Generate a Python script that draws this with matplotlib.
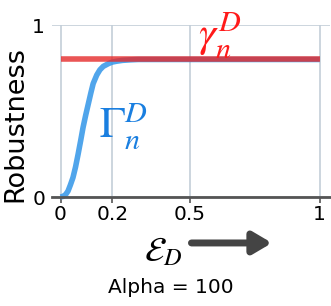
import matplotlib
matplotlib.use('Agg')
import matplotlib.pyplot as plt

plt.rcParams['font.family'] = ['DejaVu Sans']
plt.rcParams['mathtext.fontset'] = 'stix'

# data
eps = [0, 0.01, 0.02, 0.029, 0.038, 0.048, 0.058, 0.068, 0.078, 0.087, 0.097, 0.107, 0.117, 0.126,
       0.14, 0.152, 0.165, 0.185, 0.2, 0.217, 0.24, 0.27, 0.3, 0.4, 0.5, 0.6, 0.7, 0.8, 0.9, 1.0]
big_gamma = [0, 0.004, 0.015, 0.035, 0.07, 0.113, 0.175, 0.25, 0.33, 0.405, 0.475, 0.54, 0.605, 0.66,
             0.71, 0.74, 0.76, 0.776, 0.785, 0.79, 0.795, 0.798, 0.8, 0.8, 0.8, 0.8, 0.8, 0.8, 0.8, 0.8]
small_gamma_x = [0, 1]
small_gamma = [0.8, 0.8]
xticks = [0, 0.2, 0.5, 1]
xticklabels = ['0', '0.2', '0.5', '1']
yticks = [0, 1]

fig = plt.figure(figsize=(3.31, 3.06), dpi=100)
ax = fig.add_axes([0.157, 0.356, 0.84, 0.562])

ax.plot(eps, big_gamma, color='#3d9be9', lw=4, alpha=0.9, clip_on=False,
        solid_capstyle='butt', solid_joinstyle='round')
ax.plot(small_gamma_x, small_gamma, color='#e52a2a', lw=4, alpha=0.8, clip_on=False, solid_capstyle='butt')

ax.set_xlim(-0.033, 1.04)
ax.set_ylim(0, 1)
ax.set_xticks(xticks)
ax.set_xticklabels(xticklabels)
ax.set_yticks(yticks)
ax.tick_params(axis='x', labelsize=14.5, length=4, width=1.2, color='#555555', pad=2)
ax.tick_params(axis='y', labelsize=14.5, length=0, pad=5)
ax.grid(True, color='#c3ced8', lw=1.2)
ax.set_axisbelow(True)
for s in ['top', 'right', 'left']:
    ax.spines[s].set_visible(False)
ax.spines['bottom'].set_color('#555555')
ax.spines['bottom'].set_linewidth(2)

fig.text(0.046, 0.595, 'Robustness', fontsize=19.5, rotation=90, ha='center', va='center')

ax.text(0.15, 0.34, r'$\Gamma_n^D$', color='#1a7fe0', fontsize=31)
ax.text(0.53, 0.87, r'$\gamma_n^D$', color='#ff1a1a', fontsize=31, clip_on=False)

fig.text(0.495, 0.18, r'$\mathcal{E}_D$', fontsize=25, ha='center', va='center')
ax.annotate('', xy=(0.83, 0.206), xytext=(0.57, 0.206), xycoords='figure fraction',
            arrowprops=dict(arrowstyle='-|>,head_length=1.1,head_width=0.65', lw=5, color='#444444'))
fig.text(0.517, 0.062, 'Alpha = 100', fontsize=14.5, ha='center', va='center')

fig.savefig('out.png', dpi=100)
